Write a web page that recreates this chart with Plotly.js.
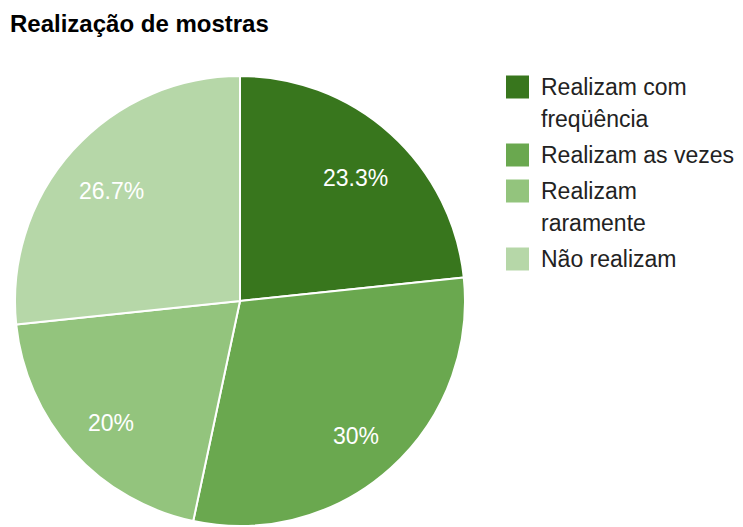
<!DOCTYPE html>
<html>
<head>
<meta charset="utf-8">
<script src="https://cdn.plot.ly/plotly-3.0.1.min.js"></script>
<style>html,body{margin:0;padding:0;background:#fff}#chart{width:743px;height:527px}</style>
</head>
<body>
<div id="chart"></div>
<script>
// Data
const title = "Realização de mostras";
const categories = ["Realizam com<br>freqüência", "Realizam as vezes", "Realizam<br>raramente", "Não realizam"];
const values = [7, 9, 6, 8];
const colors = ["#38761d", "#6aa84f", "#93c47d", "#b6d7a8"];

const W = 743, H = 527;
const px = x => x / W;
const py = y => 1 - y / H;
const FONT = "Liberation Sans, Arial, Helvetica, sans-serif";

// Pie geometry (pixels)
const cx = 240, cy = 301, R = 225;

// Custom legend (large square swatches, as in reference)
const shapes = [];
const annotations = [];
let yCur = 87;
const lineH = 32, itemStep = 36, sq = 23, sqX = 506, txtX = 539;
categories.forEach((lab, i) => {
  const lines = lab.split("<br>");
  shapes.push({
    type: "rect", xref: "paper", yref: "paper",
    x0: px(sqX), x1: px(sqX + sq), y0: py(yCur - sq / 2), y1: py(yCur + sq / 2),
    fillcolor: colors[i], line: {width: 0}
  });
  lines.forEach((ln, j) => {
    annotations.push({
      xref: "paper", yref: "paper", x: px(txtX), y: py(yCur + j * lineH),
      xanchor: "left", yanchor: "middle", showarrow: false, text: ln,
      font: {family: FONT, size: 23, color: "#222222"}
    });
  });
  yCur += (lines.length - 1) * lineH + itemStep;
});

// Slice percentage labels placed along each slice's bisector
const total = values.reduce((a, b) => a + b, 0);
let cum = 0;
values.forEach(v => {
  const frac = v / total;
  const mid = (cum + frac / 2) * 2 * Math.PI; // clockwise from 12 o'clock
  cum += frac;
  const r = 0.77 * R;
  const x = cx + r * Math.sin(mid);
  const y = cy - r * Math.cos(mid) + 6;
  const pct = parseFloat((frac * 100).toPrecision(3)).toString() + "%";
  annotations.push({
    xref: "paper", yref: "paper", x: px(x), y: py(y),
    xanchor: "center", yanchor: "middle", showarrow: false, text: pct,
    font: {family: FONT, size: 23, color: "#ffffff"}
  });
});

const trace = {
  type: "pie",
  labels: categories,
  values: values,
  sort: false,
  direction: "clockwise",
  rotation: 0,
  marker: {colors: colors, line: {color: "#ffffff", width: 2}},
  textinfo: "none",
  hoverinfo: "label+percent",
  showlegend: false,
  domain: {x: [px(cx - R), px(cx + R)], y: [py(cy + R), py(cy - R)]}
};

const layout = {
  width: W, height: H,
  margin: {l: 0, r: 0, t: 0, b: 0},
  paper_bgcolor: "#ffffff",
  showlegend: false,
  title: {
    text: "<b>" + title + "</b>",
    x: px(10), xref: "container", xanchor: "left",
    y: 1 - 24 / H, yref: "container", yanchor: "middle",
    font: {family: FONT, size: 24, color: "#000000"}
  },
  shapes: shapes,
  annotations: annotations
};

Plotly.newPlot("chart", [trace], layout, {displayModeBar: false, staticPlot: true});
</script>
</body>
</html>
